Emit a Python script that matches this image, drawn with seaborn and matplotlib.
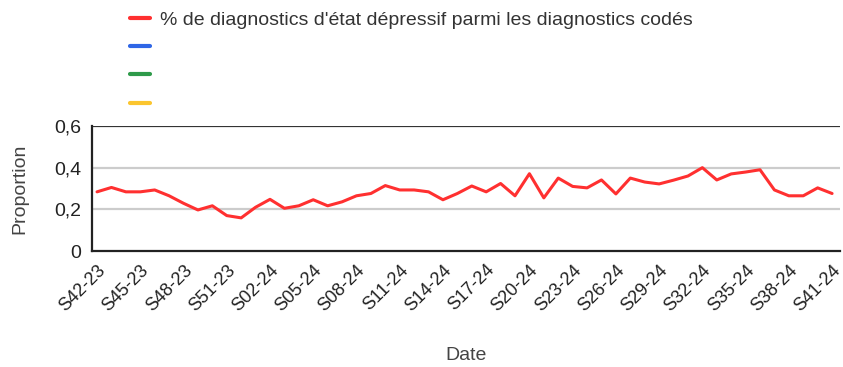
import matplotlib
matplotlib.use("Agg")
import matplotlib.pyplot as plt
from matplotlib.lines import Line2D
import numpy as np
import pandas as pd
import seaborn as sns

# Weekly labels: S42-23 .. S52-23, then S01-24 .. S41-24
weeks = [f"S{w:02d}-23" for w in range(42, 53)] + [f"S{w:02d}-24" for w in range(1, 42)]

depression_share = [
    0.284, 0.305, 0.284, 0.284, 0.293, 0.265, 0.229, 0.197, 0.217, 0.170,
    0.159, 0.210, 0.248, 0.205, 0.217, 0.246, 0.217, 0.236, 0.265, 0.276,
    0.314, 0.293, 0.293, 0.284, 0.246, 0.276, 0.312, 0.284, 0.324, 0.265,
    0.371, 0.255, 0.350, 0.310, 0.303, 0.341, 0.274, 0.350, 0.331, 0.322,
    0.340, 0.360, 0.400, 0.341, 0.370, 0.379, 0.390, 0.293, 0.265, 0.265,
    0.303, 0.276,
]

series_labels = [
    "% de diagnostics d'état dépressif parmi les diagnostics codés",
    " ",
    " ",
    " ",
]
series_colors = ["#ff3030", "#2f66e6", "#2e9a4a", "#fbc52e"]

y_ticks = [0, 0.2, 0.4, 0.6]
y_tick_labels = ["0", "0,2", "0,4", "0,6"]

sns.set_theme(style="white")
plt.rcParams["font.family"] = ["Liberation Sans", "DejaVu Sans"]

df = pd.DataFrame({"idx": np.arange(len(weeks)), "week": weeks, "value": depression_share})

fig = plt.figure(figsize=(8.43, 3.67), dpi=100)
ax = fig.add_axes([92 / 843, 1 - 251 / 367, (840 - 92) / 843, (251 - 126) / 367])

sns.lineplot(data=df, x="idx", y="value", ax=ax, color=series_colors[0],
             linewidth=2.2, legend=False)

ax.set_xlim(-0.35, len(weeks) - 0.45)
ax.set_ylim(0, 0.6)

tick_pos = np.arange(0, len(weeks), 3)
ax.set_xticks(tick_pos)
ax.set_xticklabels([weeks[i] for i in tick_pos], rotation=45, ha="right",
                   rotation_mode="anchor", fontsize=13, color="#222222")
ax.tick_params(axis="x", direction="inout", length=9, width=1.2, color="#222222", pad=3)

ax.set_yticks(y_ticks)
ax.set_yticklabels(y_tick_labels, fontsize=14, color="#222222")
ax.tick_params(axis="y", length=0, pad=8)

for y in [0.2, 0.4]:
    ax.axhline(y, color="#cccccc", linewidth=1.6, zorder=0)
ax.axhline(0.6, color="#333333", linewidth=1.6, zorder=0)

for side in ["top", "right"]:
    ax.spines[side].set_visible(False)
for side in ["left", "bottom"]:
    ax.spines[side].set_color("#222222")
    ax.spines[side].set_linewidth(1.6)

ax.set_xlabel("Date", fontsize=14, color="#444444")
ax.xaxis.set_label_coords(0.5, -0.77)
ax.set_ylabel("Proportion", fontsize=14, color="#444444")
ax.yaxis.set_label_coords(-0.085, 0.5)

handles = [Line2D([0], [0], color=c, linewidth=3) for c in series_colors]
fig.legend(handles, series_labels, loc="upper left",
           bbox_to_anchor=(130 / 843, 1 - 11 / 367), frameon=False,
           borderpad=0, borderaxespad=0,
           fontsize=14, handlelength=1.03, handletextpad=0.5,
           labelspacing=0.55, labelcolor="#333333")

fig.savefig("out.png", dpi=100)
